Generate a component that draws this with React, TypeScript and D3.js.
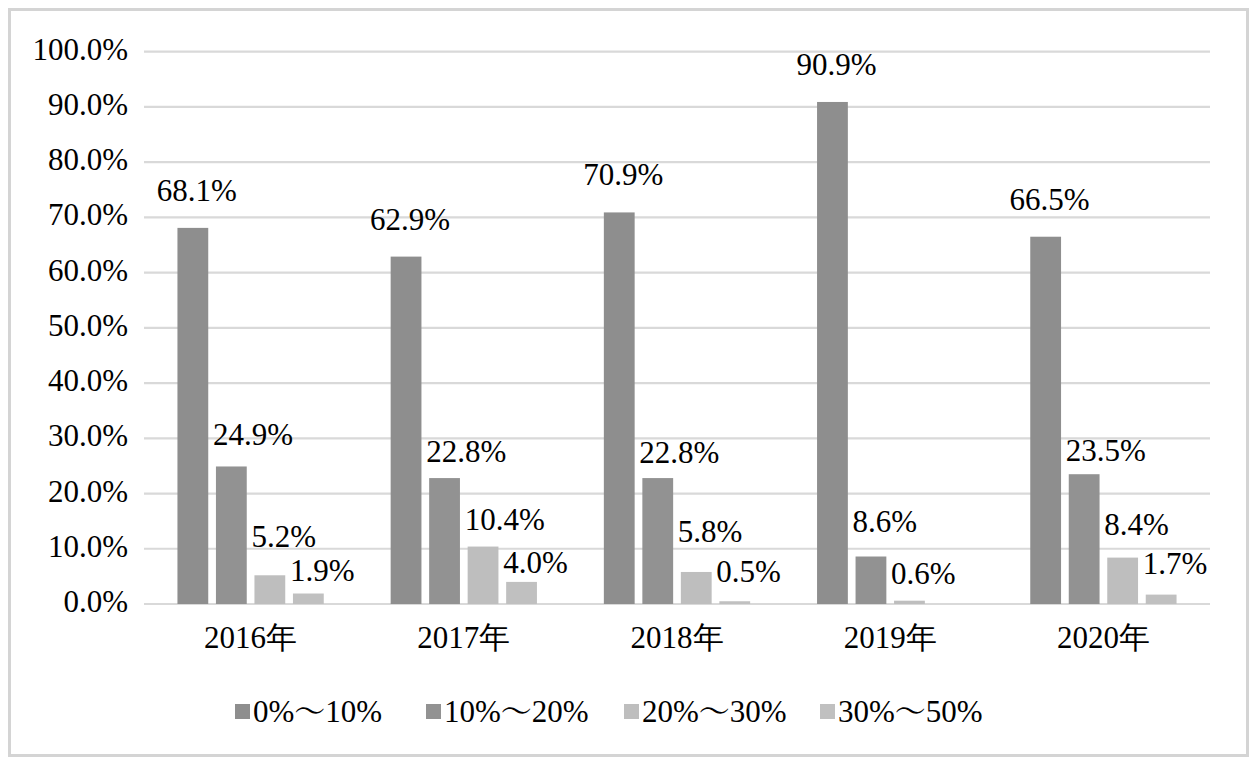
import React from "react";
import * as d3 from "d3";

const categories = ["2016年", "2017年", "2018年", "2019年", "2020年"];
const seriesNames = [["0%", "10%"], ["10%", "20%"], ["20%", "30%"], ["30%", "50%"]];
const s1 = [68.1, 62.9, 70.9, 90.9, 66.5];
const s2 = [24.9, 22.8, 22.8, 8.6, 23.5];
const s3 = [5.2, 10.4, 5.8, 0.6, 8.4];
const s4: (number | null)[] = [1.9, 4.0, 0.5, null, 1.7];
const yTicks = [0, 10, 20, 30, 40, 50, 60, 70, 80, 90, 100];

// label vertical gaps above bar tops (style), per series per category
const labelGap = [
  [27, 27, 27, 27, 27],
  [21, 16, 15, 25, 13],
  [28, 17, 30, 17, 23],
  [13, 9, 19, 0, 21],
];
const colors = ["#8e8e8e", "#929292", "#bebebe", "#c0c0c0"];
const legendX = [235, 426, 624, 820];

export default function App() {
  const W = 1252, H = 760;
  const x0 = d3.scaleBand<string>().domain(categories).range([144, 1210]).paddingInner(0).paddingOuter(0);
  const y = d3.scaleLinear().domain([0, 100]).range([604, 51.7]);
  const seriesData = [s1, s2, s3, s4];
  const groupW = 154;
  const x1 = d3.scaleBand<number>().domain([0, 1, 2, 3]).range([-groupW / 2, groupW / 2]).paddingInner(0.2).paddingOuter(0.1);

  const T = (props: any) => <text fontSize={31} fill="#000" style={{ fontFamily: "serif" }} {...props} />;

  return (
    <div style={{ position: "fixed", left: 0, top: 0, width: W, height: H, overflow: "hidden" }}>
      <svg width={W} height={H} style={{ display: "block" }}>
        <rect x={0} y={0} width={W} height={H} fill="#fff" />
        <rect x={9.5} y={9.5} width={1238} height={746} fill="#fff" stroke="#d4d4d4" strokeWidth={3} />
        {yTicks.map((t) => (
          <g key={t}>
            <line x1={144} x2={1210} y1={y(t)} y2={y(t)} stroke="#d9d9d9" strokeWidth={2.2} />
            <T x={128} y={y(t) + 8} textAnchor="end">
              {t.toFixed(1) + "%"}
            </T>
          </g>
        ))}
        {categories.map((c, ci) => {
          const cx = (x0(c) as number) + x0.bandwidth() / 2;
          return (
            <g key={c}>
              {seriesData.map((s, si) => {
                const v = s[ci];
                if (v === null || v === undefined) return null;
                const bx = cx + (x1(si) as number);
                const top = y(v);
                const isFirst = si === 0;
                return (
                  <g key={si}>
                    <rect x={bx} y={top} width={x1.bandwidth()} height={y(0) - top} fill={colors[si]} />
                    <T
                      x={isFirst ? bx + x1.bandwidth() / 2 + 4 : bx - 3}
                      y={top - labelGap[si][ci]}
                      textAnchor={isFirst ? "middle" : "start"}
                    >
                      {v.toFixed(1) + "%"}
                    </T>
                  </g>
                );
              })}
              <T x={cx} y={648} textAnchor="middle">
                {c}
              </T>
            </g>
          );
        })}
        {seriesNames.map((n, i) => (
          <g key={i}>
            <rect x={legendX[i]} y={704} width={15} height={15} fill={colors[i]} />
            <T x={legendX[i] + 18} y={722}>
              {n[0]}
              <tspan style={{ fontFamily: "Noto Serif CJK SC" }}>～</tspan>
              {n[1]}
            </T>
          </g>
        ))}
      </svg>
    </div>
  );
}
